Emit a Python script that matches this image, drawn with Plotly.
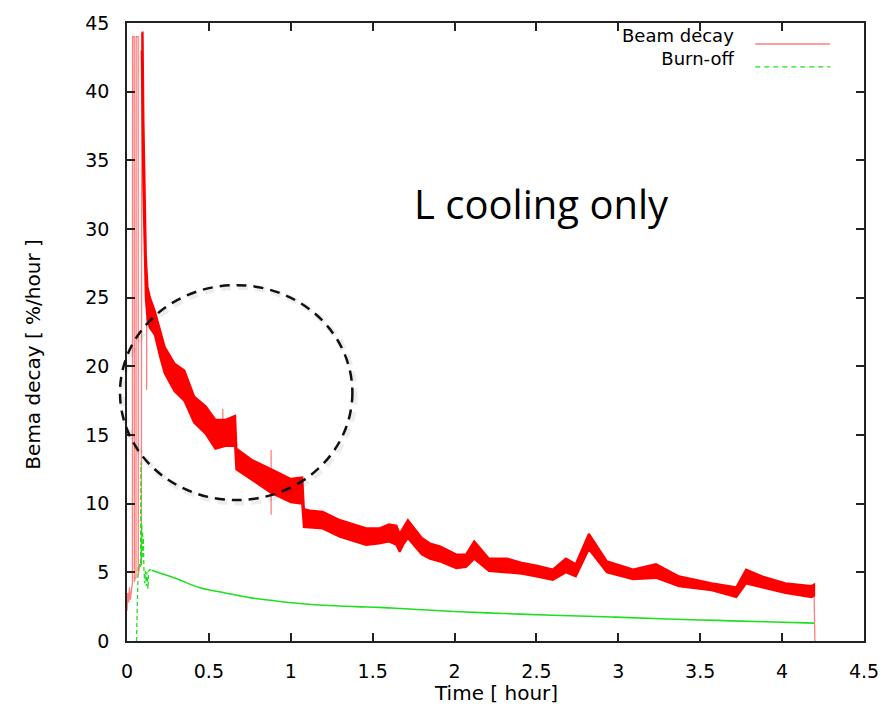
import plotly.graph_objects as go

# ---------------- data ----------------
# Beam decay: noisy band, given as upper / lower envelope
band_x = [0.090, 0.095, 0.100, 0.108, 0.115, 0.125, 0.14, 0.17, 0.20, 0.23, 0.26, 0.29,
          0.35, 0.41, 0.48, 0.54, 0.60, 0.66, 0.668, 0.76, 0.88, 1.00, 1.07, 1.08,
          1.116, 1.195, 1.30, 1.46, 1.54, 1.60, 1.645, 1.665, 1.69, 1.715, 1.80, 1.85,
          1.91, 2.01, 2.07, 2.12, 2.21, 2.32, 2.41, 2.50, 2.60, 2.68, 2.74, 2.82, 2.93,
          3.09, 3.23, 3.37, 3.57, 3.72, 3.78, 3.88, 4.02, 4.18, 4.195]
band_upper = [44.3, 44.3, 38.0, 32.0, 28.0, 25.8, 25.0, 24.0, 22.6, 21.4, 20.8, 20.2,
              19.7, 17.8, 17.1, 16.1, 16.1, 16.4, 14.0, 13.2, 12.5, 11.8, 11.9, 9.6,
              9.5, 9.4, 8.8, 8.2, 8.2, 8.5, 8.4, 7.8, 8.3, 8.8, 7.5, 7.1,
              6.9, 6.3, 6.3, 7.25, 6.0, 6.0, 5.7, 5.5, 5.2, 6.0, 5.6, 7.8, 5.8,
              5.2, 5.6, 4.7, 4.2, 3.9, 5.2, 4.7, 4.2, 4.0, 4.1]
band_lower = [43.0, 38.0, 33.0, 28.0, 25.0, 23.5, 22.8, 22.3, 20.8, 19.5, 18.8, 18.2,
              17.5, 15.9, 15.1, 14.0, 14.2, 14.2, 12.5, 11.8, 10.8, 10.1, 10.0, 8.3,
              8.3, 8.2, 7.6, 7.0, 7.1, 7.25, 7.0, 6.5, 7.1, 7.5, 6.3, 6.0,
              5.8, 5.3, 5.4, 6.0, 5.1, 5.0, 4.9, 4.7, 4.45, 5.0, 4.7, 6.7, 5.0,
              4.5, 4.6, 4.0, 3.7, 3.2, 4.2, 3.9, 3.5, 3.2, 3.3]

# Beam decay: start-up section with the tall spikes
start_x = [0.000, 0.005, 0.010, 0.015, 0.020, 0.025, 0.030, 0.033, 0.034, 0.044, 0.045,
           0.050, 0.055, 0.056, 0.068, 0.069, 0.075, 0.082, 0.088, 0.090]
start_y = [2.2, 3.5, 2.8, 3.9, 3.0, 3.6, 4.0, 4.2, 44.0, 44.0, 4.3,
           4.6, 4.6, 44.0, 44.0, 4.8, 5.3, 5.6, 5.6, 44.3]

# Beam decay: isolated spikes and the final drop
spike_x = [0.120, 0.120, None, 0.585, 0.585, None, 0.880, 0.880, None, 4.195, 4.200]
spike_y = [23.5, 18.3, None, 15.0, 16.9, None, 13.9, 9.2, None, 3.6, 0.0]

# Burn-off
burn_early_x = [0.058, 0.062, 0.068, 0.075, 0.080, 0.083, 0.085, 0.087, 0.090, 0.092,
                0.095, 0.097, 0.100, 0.103, 0.108, 0.112, 0.118, 0.122, 0.128, 0.132,
                0.140, 0.150]
burn_early_y = [0.0, 2.5, 5.3, 5.6, 5.4, 5.5, 13.0, 5.5, 8.5, 6.0,
                8.0, 6.2, 7.5, 5.3, 4.2, 5.1, 4.0, 5.0, 3.8, 5.1,
                5.2, 5.15]
burn_x = [0.15, 0.20, 0.30, 0.445, 0.60, 0.75, 0.90, 1.055, 1.20, 1.40, 1.54, 1.66,
          1.80, 2.00, 2.30, 2.60, 2.96, 3.30, 3.60, 3.90, 4.195]
burn_y = [5.15, 4.95, 4.55, 3.88, 3.5, 3.16, 2.93, 2.73, 2.6, 2.5, 2.45, 2.37,
          2.28, 2.15, 2.0, 1.87, 1.75, 1.6, 1.5, 1.4, 1.3]

x_ticks = [0, 0.5, 1, 1.5, 2, 2.5, 3, 3.5, 4, 4.5]
x_labels = ["0", "0.5", "1", "1.5", "2", "2.5", "3", "3.5", "4", "4.5"]
y_ticks = [0, 5, 10, 15, 20, 25, 30, 35, 40, 45]
legend_labels = ["Beam decay", "Burn-off"]

RED = "#ff0000"
RED_THIN = "rgba(255,0,0,0.5)"
GREEN = "#1fe01f"
FONT = "DejaVu Sans"

fig = go.Figure()

# band polygon
fig.add_trace(go.Scatter(
    x=band_x + band_x[::-1], y=band_upper + band_lower[::-1],
    fill="toself", fillcolor=RED, mode="lines",
    line=dict(color=RED, width=2.2), showlegend=False, hoverinfo="skip"))
fig.add_trace(go.Scatter(x=start_x, y=start_y, mode="lines",
                         line=dict(color=RED_THIN, width=1.3), showlegend=False))
fig.add_trace(go.Scatter(x=spike_x, y=spike_y, mode="lines",
                         line=dict(color=RED_THIN, width=1.3), showlegend=False))
fig.add_trace(go.Scatter(x=burn_early_x, y=burn_early_y, mode="lines",
                         line=dict(color=GREEN, width=1.3, dash="4px,3px"), showlegend=False))
fig.add_trace(go.Scatter(x=burn_x, y=burn_y, mode="lines", line_shape="spline",
                         line=dict(color=GREEN, width=1.6), showlegend=False))

axis_common = dict(showline=True, linecolor="#222", linewidth=1.5, mirror="ticks",
                   ticks="inside", ticklen=8, tickwidth=1.5, tickcolor="#222",
                   showgrid=False, zeroline=False,
                   tickfont=dict(family=FONT, size=19, color="#000"))

fig.update_layout(
    width=891, height=714,
    margin=dict(l=127, r=25, t=14, b=73),
    paper_bgcolor="white", plot_bgcolor="white",
    showlegend=False,
    xaxis=dict(range=[0, 4.5], tickvals=x_ticks, ticktext=x_labels,
               ticklabelstandoff=12, **axis_common),
    yaxis=dict(range=[0, 45], tickvals=y_ticks, ticklabelstandoff=12, **axis_common),
)

# dashed circle (with soft shadow)
fig.add_shape(type="circle", xref="paper", yref="paper",
              x0=-0.0065, x1=0.3088, y0=0.2240, y1=0.5728,
              line=dict(color="rgba(0,0,0,0.07)", width=6, dash="10px,7px"))
fig.add_shape(type="circle", xref="paper", yref="paper",
              x0=-0.0095, x1=0.3058, y0=0.228, y1=0.5758,
              line=dict(color="#111", width=2.5, dash="10px,7px"))

# legend drawn gnuplot-style (text, then sample line)
fig.add_annotation(xref="paper", yref="paper", x=0.8268, y=1.0, xanchor="right",
                   yanchor="top", align="right", text="<br>".join(legend_labels),
                   showarrow=False, font=dict(family=FONT, size=18, color="#000"))
fig.add_shape(type="line", xref="paper", yref="paper", x0=0.8525, x1=0.954,
              y0=0.9662, y1=0.9662, line=dict(color=RED_THIN, width=1.5))
fig.add_shape(type="line", xref="paper", yref="paper", x0=0.8525, x1=0.954,
              y0=0.9290, y1=0.9290, line=dict(color=GREEN, width=1.3, dash="5px,4px"))

# axis titles
fig.add_annotation(xref="paper", yref="paper", x=0.50, y=-0.0845, xanchor="center",
                   yanchor="middle", text="Time [ hour]", showarrow=False,
                   font=dict(family=FONT, size=20, color="#000"))
fig.add_annotation(xref="paper", yref="paper", x=-0.127, y=0.464, xanchor="center",
                   yanchor="middle", text="Bema decay [ %/hour ]", showarrow=False,
                   textangle=-90, font=dict(family=FONT, size=20, color="#000"))

# in-plot text
fig.add_annotation(xref="paper", yref="paper", x=0.5618, y=0.708, xanchor="center",
                   yanchor="middle", text="L cooling only", showarrow=False,
                   font=dict(family="Open Sans", size=40, color="#000"))

fig.write_html("out.html")
